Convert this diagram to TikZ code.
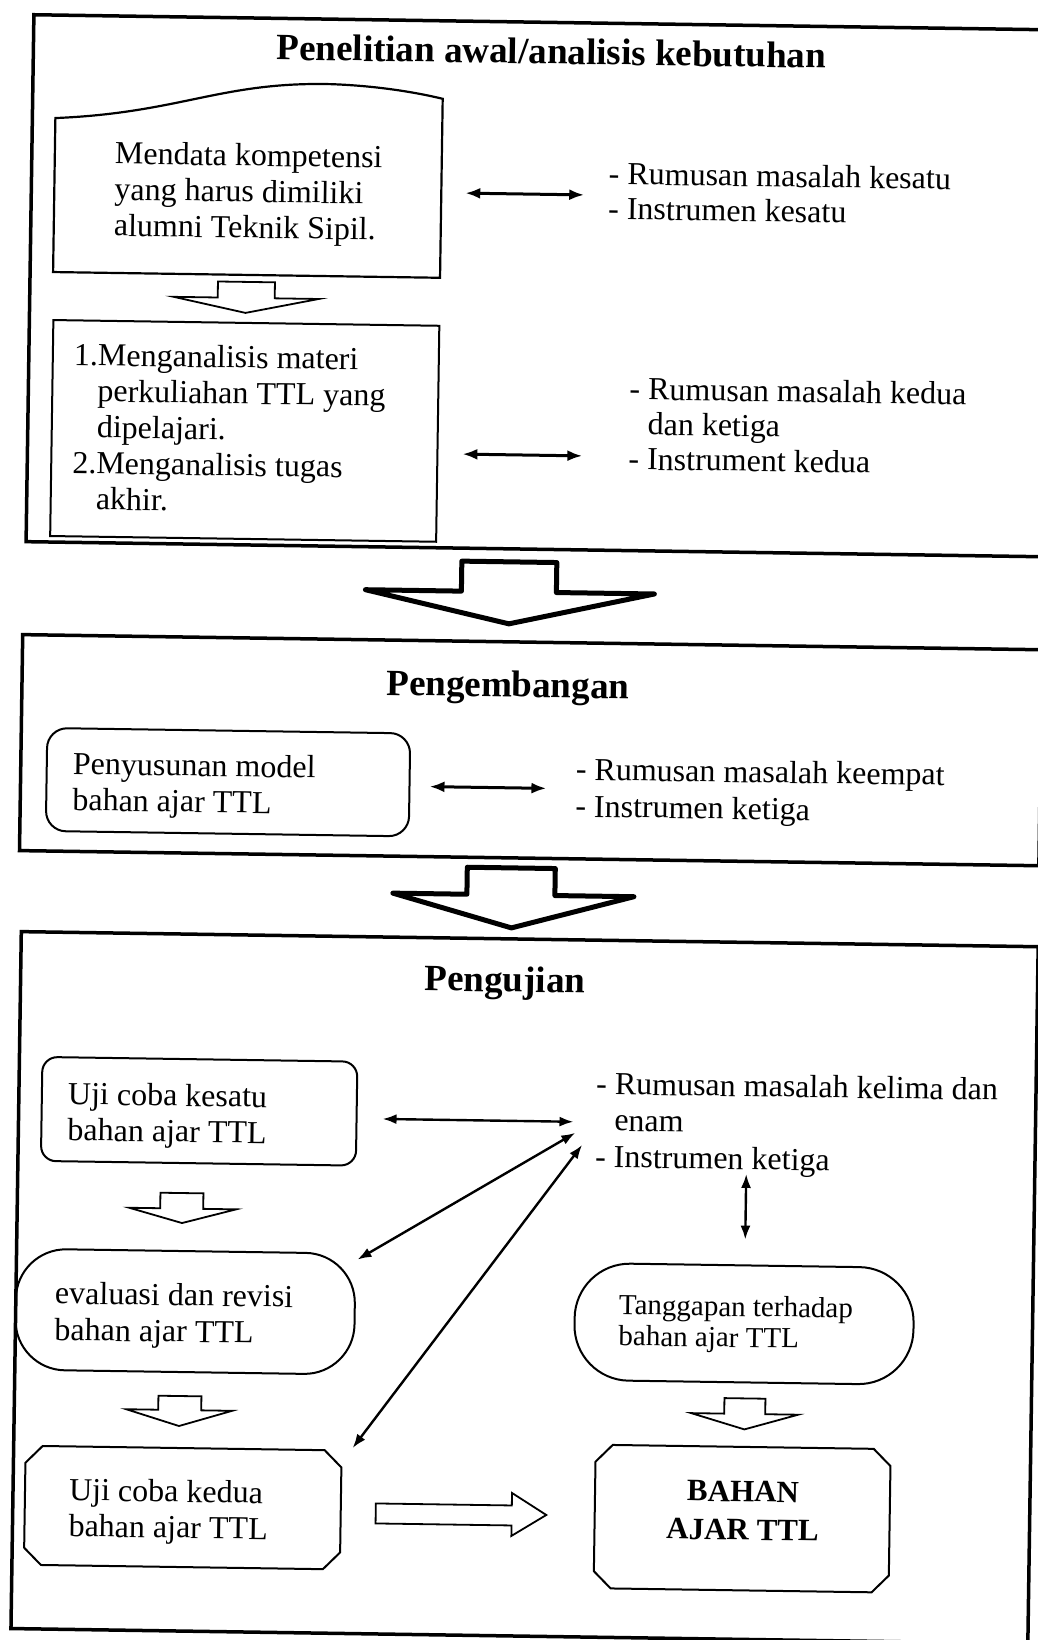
\documentclass[tikz,border=0pt]{standalone}
\usepackage{fontspec}
\setmainfont{Liberation Serif}
\usetikzlibrary{arrows.meta}
\newcommand{\tl}[1]{\begin{tabular}[t]{@{}l@{}}#1\end{tabular}}
\newcommand{\tlc}[1]{\begin{tabular}[t]{@{}c@{}}#1\end{tabular}}
\newcommand{\tdash}[1]{\begin{tabular}[t]{@{}l@{}l@{}}#1\end{tabular}}
\newcommand{\dsh}{-\kern 8pt}
\begin{document}
\begin{tikzpicture}[x=1pt,y=-1pt,
  outer/.style={draw, line width=3.5pt},
  inbox/.style={draw, line width=2pt, inner sep=0pt},
  txt/.style={inner sep=0pt, anchor=base west, font=\fontsize{32}{36}\selectfont},
  ttl/.style={inner sep=0pt, anchor=base, font=\fontsize{37}{40}\selectfont\bfseries},
  dbl/.style={{Latex[length=15pt,width=11pt]}-{Latex[length=15pt,width=11pt]}, line width=3pt},
  dbltwo/.style={{Latex[length=14pt,width=10pt]}-{Latex[length=14pt,width=10pt]}, line width=2.4pt},
  hollow/.style={draw, line width=1.8pt, line join=miter},
  bighollow/.style={draw, line width=5pt, line join=round}]
\fill[white] (0,0) rectangle (1038,1640);
\useasboundingbox (0,0) rectangle (1038,1640);
\clip (0,0) rectangle (1038,1640);
\begin{scope}[rotate around={-0.85:(519,820)}, transform shape]
% ---------- section 1
\draw[outer] (22,22) rectangle (1050,549);
\node[ttl] (t1) at (540,63.5) {Penelitian awal/analisis kebutuhan};
\draw[inbox, line width=2.2pt] (45,279) -- (45,125) .. controls (170,118) and (210,86) .. (320,87)
   .. controls (370,88) and (410,95) .. (432,100) -- (432,279) -- cycle;
\coordinate (b1) at (238,190);
\node[txt] (m1) at (105,170) {\tl{Mendata kompetensi\\yang harus dimiliki\\alumni Teknik Sipil.}};
\draw[hollow] (210,286) -- (267,286) -- (267,302) -- (311,302) -- (238,317) -- (166,302) -- (210,302) -- cycle;
\node[inbox, minimum width=386pt, minimum height=216pt] (b2) at (239,435) {};
\node[txt] (m2) at (67,372) {\tdash{1.&Menganalisis materi\\&perkuliahan TTL yang\\&dipelajari.\\2.&Menganalisis tugas\\&akhir.}};
\node[txt, font=\fontsize{32}{35}\selectfont] (r1) at (599,183) {\tl{- Rumusan masalah kesatu\\- Instrumen kesatu}};
\node[txt, font=\fontsize{32}{35}\selectfont] (r2) at (623,398) {\tdash{\dsh&Rumusan masalah kedua\\&dan ketiga\\\dsh&Instrument kedua}};
\coordinate (a1l) at (456,194); \coordinate (a1r) at (575,194);
\coordinate (a2l) at (457,455); \coordinate (a2r) at (577,455);
\draw[dbl] (a1l) -- (a1r);
\draw[dbl] (a2l) -- (a2r);
% big arrow 1
\draw[bighollow] (458,562) -- (553,562) -- (553,592) -- (651,592) -- (506,624) -- (362,592) -- (458,592) -- cycle;
% ---------- section 2
\draw[outer] (20,642) rectangle (1039.5,858);
\node[ttl] (t2) at (506,697) {Pengembangan};
\node[inbox, rounded corners=20pt, minimum width=363pt, minimum height=103pt] (b3) at (227.5,786.5) {};
\node[txt] (m3) at (72,781) {\tl{Penyusunan model\\bahan ajar TTL}};
\node[txt, font=\fontsize{32}{37}\selectfont] (r3) at (575,779) {\tl{- Rumusan masalah keempat\\- Instrumen ketiga}};
\coordinate (a3l) at (429,788); \coordinate (a3r) at (546,788);
\draw[dbl] (a3l) -- (a3r);
% big arrow 2
\draw[bighollow] (468,868) -- (556,868) -- (556,895) -- (635,895) -- (513,928) -- (394,895) -- (468,895) -- cycle;
% ---------- section 3
\draw[outer] (23,939) rectangle (1040,1636);
\node[ttl] (t3) at (507.5,992) {Pengujian};
\node[inbox, rounded corners=15pt, minimum width=315pt, minimum height=104pt] (b4) at (203.5,1116) {};
\node[txt] (m4) at (72,1111) {\tl{Uji coba kesatu\\bahan ajar TTL}};
\node[txt, font=\fontsize{32}{36.5}\selectfont] (r4) at (600,1093) {\tdash{\dsh&Rumusan masalah kelima dan\\&enam\\\dsh&Instrumen ketiga}};
\draw[hollow] (166,1198) -- (209,1198) -- (209,1213.5) -- (242,1213.5) -- (188,1228) -- (135,1213.5) -- (166,1213.5) -- cycle;
\node[inbox, rounded corners=50pt, minimum width=339pt, minimum height=121pt] (b5) at (192.5,1316.5) {};
\node[txt, font=\fontsize{32}{36.5}\selectfont] (m5) at (62,1310.5) {\tl{evaluasi dan revisi\\bahan ajar TTL}};
\draw[hollow] (167,1401) -- (210,1401) -- (210,1415) -- (241,1415) -- (188,1431) -- (135,1415) -- (167,1415) -- cycle;
\draw[inbox] (52,1453) -- (334,1453) -- (351,1470) -- (351,1555) -- (334,1572) -- (52,1572) -- (35,1555) -- (35,1470) -- cycle;
\coordinate (b6) at (193,1512.5);
\node[txt] (m6) at (79,1507) {\tl{Uji coba kedua\\bahan ajar TTL}};
\draw[hollow] (386,1505.5) -- (522,1505.5) -- (522,1493) -- (556.6,1514.5) -- (522,1536) -- (522,1525.5) -- (386,1525.5) -- cycle;
\node[inbox, rounded corners=55pt, minimum width=339pt, minimum height=117pt] (b7) at (751.5,1320.5) {};
\node[txt, font=\fontsize{29}{31}\selectfont] (m7) at (626,1313) {\tl{Tanggapan terhadap\\bahan ajar TTL}};
\draw[hollow] (733,1395) -- (774,1395) -- (774,1410.5) -- (807,1410.5) -- (753.4,1426) -- (700,1410.5) -- (733,1410.5) -- cycle;
\draw[inbox] (622,1443.5) -- (883,1443.5) -- (900,1460.5) -- (900,1570) -- (883,1587) -- (622,1587) -- (605,1570) -- (605,1460.5) -- cycle;
\coordinate (b8) at (752.5,1515);
\node[inner sep=0pt, anchor=base, font=\fontsize{31}{38.3}\selectfont\bfseries] (m8) at (753,1498.4) {\tlc{BAHAN\\AJAR TTL}};
\coordinate (a4l) at (387,1121); \coordinate (a4r) at (578,1121);
\coordinate (a5u) at (580,1132); \coordinate (a5d) at (364,1262);
\coordinate (a6u) at (587,1144); \coordinate (a6d) at (362,1450.5);
\coordinate (a7u) at (751.5,1170.6); \coordinate (a7d) at (751.5,1236.3);
\draw[dbltwo] (a4l) -- (a4r);
\draw[dbltwo] (a5u) -- (a5d);
\draw[dbltwo] (a6u) -- (a6d);
\draw[dbltwo] (a7u) -- (a7d);
\end{scope}
\end{tikzpicture}
\end{document}
